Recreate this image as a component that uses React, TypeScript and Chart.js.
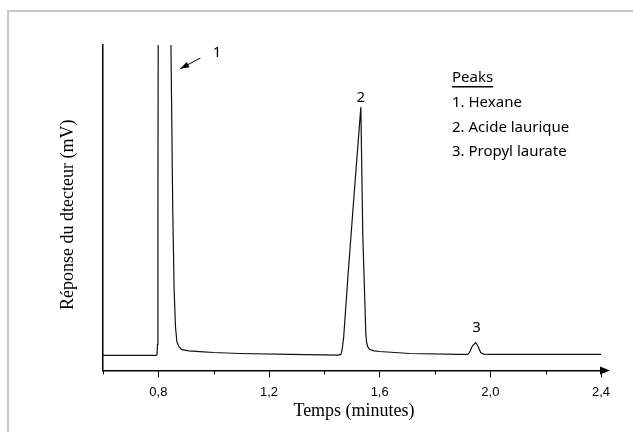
import React, { useEffect, useRef } from "react";
import { Chart, registerables } from "chart.js";

Chart.register(...registerables);

// Chromatogram trace: time (minutes) and detector response (mV, arbitrary scale)
const times: number[] = [
  0.6, 0.79, 0.795, 0.797, 0.7985, 0.7995, 0.82, 0.8456, 0.852, 0.857, 0.862, 0.867, 0.875, 0.885,
  0.91, 0.95, 1.0, 1.095, 1.275, 1.45, 1.4595, 1.463, 1.466, 1.47, 1.485, 1.508, 1.532, 1.539, 1.55,
  1.553, 1.557, 1.564, 1.58, 1.6, 1.709, 1.889, 1.918, 1.925, 1.935, 1.947, 1.955, 1.965, 1.976, 2.0, 2.4,
];
const response: number[] = [
  4.6, 4.6, 4.8, 8, 50, 100, 160, 100, 50, 25, 13.4, 8.8, 7.2, 6.4,
  6.0, 5.8, 5.5, 5.2, 4.9, 4.7, 4.9, 5.8, 7.5, 10.3, 28.5, 54.5, 80.9, 41.6, 11.2,
  8.5, 7.2, 6.4, 6.0, 5.8, 5.2, 4.95, 4.9, 5.5, 7.5, 8.5, 7.5, 5.5, 5.0, 4.95, 4.9,
];

const xTickValues: number[] = [0.8, 1.2, 1.6, 2.0, 2.4];
const xMinorValues: number[] = [0.6, 1.0, 1.4, 1.8, 2.2];

const peakLabels: string[] = ["1", "2", "3"];
const legendTitle = "Peaks";
const legendItems: string[] = ["1. Hexane", "2. Acide laurique", "3. Propyl laurate"];
const xTitle = "Temps (minutes)";
const yTitle = "Réponse du dtecteur (mV)";

const labelFont = '15px "Comic Sans MS", "Noto Sans", sans-serif';

const decorPlugin = {
  id: "decor",
  beforeDraw(chart: any) {
    const ctx = chart.ctx;
    ctx.save();
    ctx.fillStyle = "#fff";
    ctx.fillRect(0, 0, chart.width, chart.height);
    ctx.strokeStyle = "#c8c8c8";
    ctx.lineWidth = 2;
    ctx.beginPath();
    ctx.moveTo(8, chart.height + 2);
    ctx.lineTo(8, 11);
    ctx.lineTo(chart.width + 2, 11);
    ctx.stroke();
    ctx.restore();
  },
  afterDraw(chart: any) {
    const ctx = chart.ctx;
    const xs = chart.scales.x;
    const ys = chart.scales.y;
    const area = chart.chartArea;
    ctx.save();
    // minor ticks
    ctx.strokeStyle = "#000";
    ctx.lineWidth = 1;
    xMinorValues.forEach((v) => {
      const px = Math.round(xs.getPixelForValue(v)) + 0.5;
      ctx.beginPath();
      ctx.moveTo(px, area.bottom);
      ctx.lineTo(px, area.bottom + 4);
      ctx.stroke();
    });
    // axis arrow
    const ax = xs.getPixelForValue(2.4);
    const ay = area.bottom;
    ctx.fillStyle = "#000";
    ctx.beginPath();
    ctx.moveTo(ax - 1, ay - 4);
    ctx.lineTo(ax + 9, ay);
    ctx.lineTo(ax - 1, ay + 4);
    ctx.closePath();
    ctx.fill();

    // peak labels
    ctx.font = labelFont;
    ctx.fillStyle = "#000";
    ctx.textAlign = "center";
    ctx.textBaseline = "middle";
    ctx.fillText(peakLabels[0], xs.getPixelForValue(1.012), ys.getPixelForValue(97.5));
    ctx.fillText(peakLabels[1], xs.getPixelForValue(1.532), ys.getPixelForValue(83.9));
    ctx.fillText(peakLabels[2], xs.getPixelForValue(1.95), ys.getPixelForValue(13.1));

    // arrow to peak 1
    const x1 = xs.getPixelForValue(0.952), y1 = ys.getPixelForValue(96);
    const x2 = xs.getPixelForValue(0.879), y2 = ys.getPixelForValue(92.7);
    ctx.lineWidth = 1;
    ctx.beginPath();
    ctx.moveTo(x1, y1);
    ctx.lineTo(x2, y2);
    ctx.stroke();
    const ang = Math.atan2(y2 - y1, x2 - x1);
    ctx.beginPath();
    ctx.moveTo(x2, y2);
    ctx.lineTo(x2 - 9 * Math.cos(ang) + 3 * Math.sin(ang), y2 - 9 * Math.sin(ang) - 3 * Math.cos(ang));
    ctx.lineTo(x2 - 9 * Math.cos(ang) - 3 * Math.sin(ang), y2 - 9 * Math.sin(ang) + 3 * Math.cos(ang));
    ctx.closePath();
    ctx.fill();

    // legend box
    const lx = 452;
    ctx.textAlign = "left";
    ctx.fillText(legendTitle, lx, 78);
    const w = ctx.measureText(legendTitle).width;
    ctx.fillRect(lx, 86, w, 1.5);
    legendItems.forEach((t, i) => {
      ctx.fillText(t, lx, 103 + i * 24.5);
    });

    // axis titles
    ctx.font = '18px "Liberation Serif", "Times New Roman", serif';
    ctx.textAlign = "center";
    ctx.fillText(xTitle, (area.left + area.right) / 2 + 2, 411);
    ctx.translate(68, (area.top + area.bottom) / 2 + 7);
    ctx.rotate(-Math.PI / 2);
    ctx.fillText(yTitle, 0, 0);
    ctx.restore();
  },
};

export default function App() {
  const ref = useRef<HTMLCanvasElement | null>(null);
  useEffect(() => {
    if (!ref.current) return;
    const chart = new Chart(ref.current, {
      type: "line",
      data: {
        datasets: [
          {
            data: times.map((t, i) => ({ x: t, y: response[i] })),
            borderColor: "#111",
            borderWidth: 1.2,
            pointRadius: 0,
            fill: false,
            tension: 0,
          },
        ],
      },
      options: {
        responsive: false,
        animation: false,
        events: [],
        layout: { padding: { left: 103, top: 45, right: 32, bottom: 25 } },
        plugins: { legend: { display: false }, tooltip: { enabled: false } },
        scales: {
          x: {
            type: "linear",
            min: 0.6,
            max: 2.4,
            afterBuildTicks: (scale: any) => {
              scale.ticks = xTickValues.map((v) => ({ value: v }));
            },
            ticks: {
              autoSkip: false,
              maxRotation: 0,
              padding: 7,
              color: "#000",
              font: { family: '"Liberation Sans", Arial, sans-serif', size: 13 },
              callback: (v: any) => Number(v).toFixed(1).replace(".", ","),
            },
            grid: { drawOnChartArea: false, drawTicks: true, tickLength: 7, color: "#000", lineWidth: 1 },
            border: { display: true, color: "#000", width: 1.5 },
          },
          y: {
            min: 0,
            max: 100,
            ticks: { display: false },
            grid: { drawOnChartArea: false, drawTicks: false },
            border: { display: true, color: "#000", width: 1.5 },
          },
        },
      },
      plugins: [decorPlugin],
    } as any);
    return () => chart.destroy();
  }, []);
  return (
    <div style={{ position: "fixed", left: 0, top: 0, width: 633, height: 432, background: "#fff" }}>
      <canvas ref={ref} width={633} height={432} style={{ width: 633, height: 432 }} />
    </div>
  );
}
